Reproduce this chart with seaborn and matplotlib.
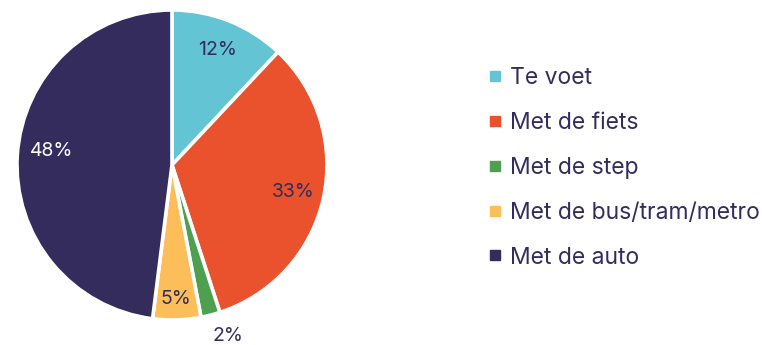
import matplotlib
matplotlib.use("Agg")
import matplotlib.pyplot as plt
from matplotlib.lines import Line2D
import numpy as np
import seaborn as sns

# Vervoerswijze en aandeel (%)
categories = ["Te voet", "Met de fiets", "Met de step", "Met de bus/tram/metro", "Met de auto"]
shares = [12, 33, 2, 5, 48]
colors = ["#63C4D4", "#E9522C", "#4E9F50", "#FDBD59", "#332C5C"]

sns.set_theme(style="white")
plt.rcParams["font.family"] = ["Inter", "DejaVu Sans"]

text_color = "#332C5C"
# label radius (fraction of pie radius) and angular nudge (degrees) per wedge
label_dist = [0.80, 0.80, 1.16, 0.865, 0.78]
label_nudge = [0, 0, 3.6, 0, -3]
label_colors = [text_color, text_color, text_color, text_color, "white"]

fig = plt.figure(figsize=(7.62, 3.45), dpi=100)
ax = fig.add_axes([0.0223, 0.0725, 0.4068, 0.8986])

wedges, _ = ax.pie(
    shares,
    colors=colors,
    startangle=90,
    counterclock=False,
    wedgeprops=dict(edgecolor="white", linewidth=2.6),
)
ax.set_xlim(-1, 1)
ax.set_ylim(-1, 1)
ax.set_aspect("equal")
ax.axis("off")

# Percentage labels at each wedge's mid angle
for w, val, d, nd, c in zip(wedges, shares, label_dist, label_nudge, label_colors):
    ang = np.deg2rad((w.theta1 + w.theta2) / 2 + nd)
    ax.text(d * np.cos(ang), d * np.sin(ang), f"{val}%",
            ha="center", va="center", fontsize=14, color=c, clip_on=False)

handles = [Line2D([0], [0], marker="s", linestyle="none", markersize=6.5,
                  markerfacecolor=col, markeredgecolor=col) for col in colors]
fig.legend(handles, categories, loc="center left", bbox_to_anchor=(0.626, 0.514),
           frameon=False, fontsize=16.5, labelcolor=text_color,
           handletextpad=0.3, labelspacing=1.0, handlelength=0.75,
           borderaxespad=0)

fig.savefig("out.png", dpi=100)
